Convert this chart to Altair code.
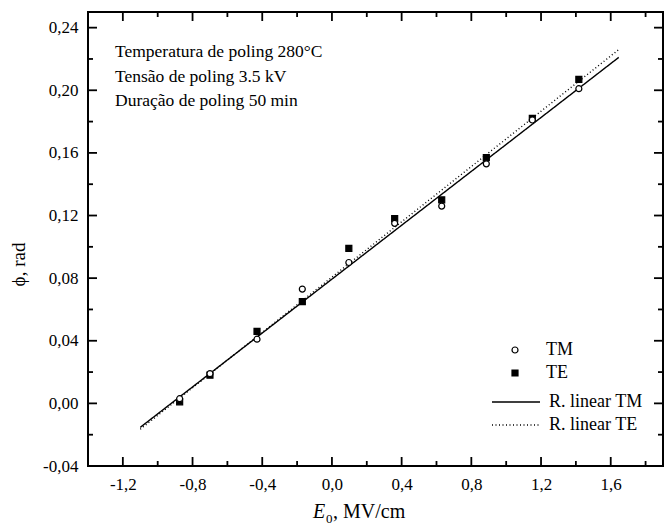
import altair as alt
import pandas as pd

# ---- data ----
E_field = [-0.874, -0.70, -0.43, -0.17, 0.097, 0.36, 0.63, 0.886, 1.15, 1.417]
phi_TM = [0.003, 0.019, 0.041, 0.073, 0.090, 0.115, 0.126, 0.153, 0.181, 0.201]
phi_TE = [0.001, 0.018, 0.046, 0.065, 0.099, 0.118, 0.130, 0.157, 0.182, 0.207]

fit_E = [-1.10, 1.646]
fit_TM = [-0.0153, 0.221]
fit_TE = [-0.0165, 0.226]

x_major = [-1.2, -0.8, -0.4, 0.0, 0.4, 0.8, 1.2, 1.6]
x_minor = [-1.0, -0.6, -0.2, 0.2, 0.6, 1.0, 1.4, 1.8]
y_major = [-0.04, 0.0, 0.04, 0.08, 0.12, 0.16, 0.20, 0.24]
y_minor = [-0.02, 0.02, 0.06, 0.10, 0.14, 0.18, 0.22]

annotation = "Temperatura de poling 280°C\nTensão de poling 3.5 kV\nDuração de poling 50 min"

FONT = "Liberation Serif"
W, H = 575, 454

pts = pd.DataFrame({
    "E": E_field + E_field,
    "phi": phi_TE + phi_TM,
    "series": ["TE"] * len(E_field) + ["TM"] * len(E_field),
})
lines = pd.DataFrame({
    "E": fit_E + fit_E,
    "phi": fit_TM + fit_TE,
    "fit": ["R. linear TM"] * 2 + ["R. linear TE"] * 2,
})

xscale = alt.Scale(domain=[-1.4, 1.9], nice=False, zero=False)
yscale = alt.Scale(domain=[-0.04, 0.25], nice=False, zero=False)

x_axis = alt.Axis(
    values=x_major,
    labelExpr="(datum.value < -0.001 ? '-' : '') + replace(format(abs(datum.value), '.1f'), '.', ',')",
    ticks=False, domain=False, grid=False, labelPadding=10, title=None,
)
y_axis = alt.Axis(
    values=y_major,
    labelExpr="(datum.value < -0.001 ? '-' : '') + replace(format(abs(datum.value), '.2f'), '.', ',')",
    ticks=False, domain=False, grid=False, labelPadding=10,
    title="ϕ, rad", titleX=-70, titleY=252, titleAngle=270,
    titleAlign="center", titleBaseline="middle",
)

X = alt.X("E:Q", scale=xscale, axis=x_axis)
Y = alt.Y("phi:Q", scale=yscale, axis=y_axis)

pt_legend = alt.Legend(
    title=None, orient="none", legendX=418, legendY=329, labelOffset=22,
    rowPadding=5, symbolStrokeColor="black", symbolStrokeWidth=1.2,
    symbolSize=36, padding=0,
)
line_legend = alt.Legend(
    title=None, orient="none", legendX=419, legendY=381, labelOffset=24,
    rowPadding=5, symbolType="M-4,0H4", symbolSize=144, symbolStrokeWidth=1.4,
    symbolStrokeColor="black", padding=0,
)

fit_layer = alt.Chart(lines).mark_line(color="black", strokeWidth=1.4).encode(
    x=X, y=Y,
    strokeDash=alt.StrokeDash(
        "fit:N",
        scale=alt.Scale(domain=["R. linear TM", "R. linear TE"], range=[[1, 0], [1, 2.5]]),
        legend=line_legend,
    ),
    detail="fit:N",
)

pt_layer = alt.Chart(pts).mark_point(strokeWidth=1.2, size=36, opacity=1, filled=False).encode(
    x=X, y=Y,
    shape=alt.Shape("series:N", scale=alt.Scale(domain=["TM", "TE"], range=["circle", "square"]), legend=pt_legend),
    fill=alt.Fill("series:N", scale=alt.Scale(domain=["TM", "TE"], range=["white", "black"]), legend=pt_legend),
    stroke=alt.Stroke("series:N", scale=alt.Scale(domain=["TM", "TE"], range=["black", "black"]), legend=pt_legend),
    order=alt.Order("series:N", sort="ascending"),
)

def xticks(vals, length):
    d = pd.DataFrame({"E": vals})
    bottom = alt.Chart(d).mark_rule(color="black", strokeWidth=1.8).encode(
        x=X, y=alt.value(H), y2=alt.value(H - length))
    top = alt.Chart(d).mark_rule(color="black", strokeWidth=1.8).encode(
        x=X, y=alt.value(0), y2=alt.value(length))
    return bottom + top

def yticks(vals, length):
    d = pd.DataFrame({"phi": vals})
    left = alt.Chart(d).mark_rule(color="black", strokeWidth=1.8).encode(
        y=Y, x=alt.value(0), x2=alt.value(length))
    right = alt.Chart(d).mark_rule(color="black", strokeWidth=1.8).encode(
        y=Y, x=alt.value(W), x2=alt.value(W - length))
    return left + right

note = alt.Chart(pd.DataFrame({"t": [annotation]})).mark_text(
    align="left", baseline="alphabetic", font=FONT, fontSize=17.5, lineHeight=24.5,
    lineBreak="\n", color="black",
).encode(text="t:N", x=alt.value(27), y=alt.value(45))

tdf = pd.DataFrame({"a": [1]})
title_E = alt.Chart(tdf).mark_text(text="E", align="left", baseline="middle", font=FONT,
                                    fontSize=20, fontStyle="italic", color="black").encode(
    x=alt.value(225), y=alt.value(500))
title_0 = alt.Chart(tdf).mark_text(text="0", align="left", baseline="middle", font=FONT,
                                    fontSize=13, color="black").encode(
    x=alt.value(238), y=alt.value(507))
title_rest = alt.Chart(tdf).mark_text(text=", MV/cm", align="left", baseline="middle", font=FONT,
                                       fontSize=20, color="black").encode(
    x=alt.value(245), y=alt.value(500))

chart = alt.layer(
    fit_layer, pt_layer,
    xticks(x_major, 9), xticks(x_minor, 5), yticks(y_major, 9), yticks(y_minor, 5),
    note, title_E, title_0, title_rest,
).resolve_scale(
    shape="independent", fill="independent", strokeDash="independent", stroke="independent",
).properties(
    width=W, height=H,
    autosize=alt.AutoSizeParams(type="none"),
    padding={"left": 88, "top": 12, "right": 1, "bottom": 66},
    background="white",
).configure_view(
    stroke="black", strokeWidth=2,
).configure_axis(
    labelFont=FONT, labelFontSize=17, labelColor="black",
    titleFont=FONT, titleFontSize=19, titleColor="black", titleFontWeight="normal",
).configure_legend(
    labelFont=FONT, labelFontSize=18, labelColor="black",
)

chart.save("out.html", embed_options={"renderer": "svg", "actions": False})
